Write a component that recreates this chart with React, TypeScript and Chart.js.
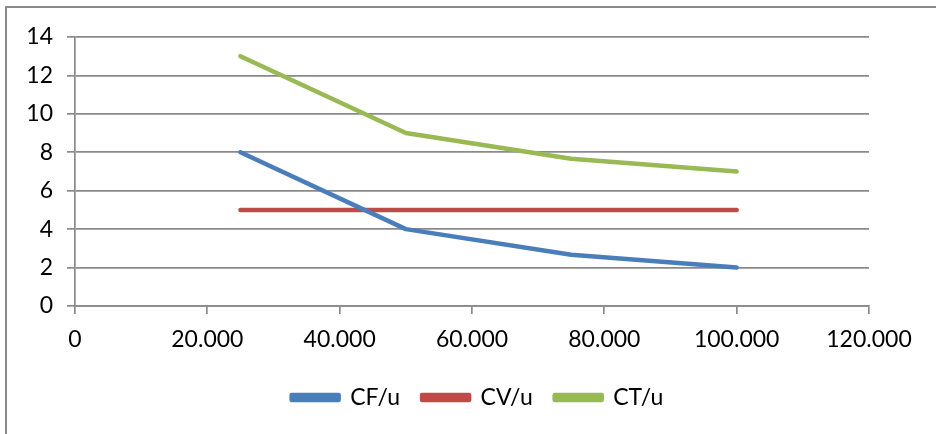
import React, { useEffect, useRef } from "react";
import { Chart, registerables } from "chart.js";

Chart.register(...registerables);

const units = [25000, 50000, 75000, 100000];
const cfPerUnit = [8, 4, 2.667, 2];
const cvPerUnit = [5, 5, 5, 5];
const ctPerUnit = [13, 9, 7.667, 7];
const seriesNames = ["CF/u", "CV/u", "CT/u"];
const seriesColors = ["#4a7ebb", "#be4b48", "#98b954"];

const FONT = "Lato, 'Open Sans', sans-serif";
const FONT_SIZE = 23;

const fmt = (v: number) => String(v).replace(/\B(?=(\d{3})+(?!\d))/g, ".");

const borderPlugin = {
  id: "outerBorder",
  beforeDraw(chart: any) {
    const ctx = chart.ctx;
    ctx.save();
    ctx.strokeStyle = "#8a8a8a";
    ctx.lineWidth = 2;
    ctx.beginPath();
    ctx.moveTo(6, 434);
    ctx.lineTo(6, 7);
    ctx.lineTo(936, 7);
    ctx.stroke();
    ctx.restore();
  },
};

const legendShift = {
  id: "legendShift",
  afterLayout(chart: any) {
    const lg = chart.legend;
    if (lg) {
      lg.left = 18;
      lg.right = 937;
    }
  },
};

export default function App() {
  const ref = useRef<HTMLCanvasElement | null>(null);
  useEffect(() => {
    if (!ref.current) return;
    const series = [cfPerUnit, cvPerUnit, ctPerUnit];
    const chart = new Chart(ref.current, {
      type: "line",
      data: {
        datasets: series.map((vals, i) => ({
          label: seriesNames[i],
          data: units.map((x, j) => ({ x, y: vals[j] })),
          borderColor: seriesColors[i],
          backgroundColor: seriesColors[i],
          borderWidth: 4.5,
          borderCapStyle: "round",
          borderJoinStyle: "round",
          pointRadius: 0,
          tension: 0,
          fill: false,
        })),
      },
      options: {
        animation: false,
        responsive: false,
        maintainAspectRatio: false,
        layout: { padding: { top: 37, right: 67, left: 0, bottom: 15 } },
        plugins: {
          tooltip: { enabled: false },
          legend: {
            position: "bottom",
            labels: {
              boxWidth: 47,
              boxHeight: 5,
              padding: 22,
              color: "#000",
              font: { family: FONT, size: FONT_SIZE },
            },
          },
        },
        scales: {
          x: {
            type: "linear",
            min: 0,
            max: 120000,
            ticks: {
              stepSize: 20000,
              callback: (v: any) => fmt(Number(v)),
              color: "#000",
              font: { family: FONT, size: FONT_SIZE },
              padding: 12,
              maxRotation: 0,
            },
            grid: { display: true, drawOnChartArea: false, color: "#8a8a8a", lineWidth: 1.7, tickLength: 8 },
            border: { color: "#8a8a8a", width: 1.7 },
            afterFit: (s: any) => { s.height = 58; },
          },
          y: {
            min: 0,
            max: 14,
            ticks: {
              stepSize: 2,
              color: "#000",
              font: { family: FONT, size: FONT_SIZE },
              padding: 14,
            },
            grid: { color: "#8a8a8a", lineWidth: 1.7, tickLength: 8 },
            border: { color: "#8a8a8a", width: 1.7 },
            afterFit: (s: any) => { s.width = 75; },
          },
        },
      },
      plugins: [borderPlugin, legendShift],
    } as any);
    return () => chart.destroy();
  }, []);
  return (
    <div style={{ position: "fixed", left: 0, top: 0, width: 936, height: 434, background: "#fff" }}>
      <canvas ref={ref} width={936} height={434} style={{ width: 936, height: 434, display: "block" }} />
    </div>
  );
}
